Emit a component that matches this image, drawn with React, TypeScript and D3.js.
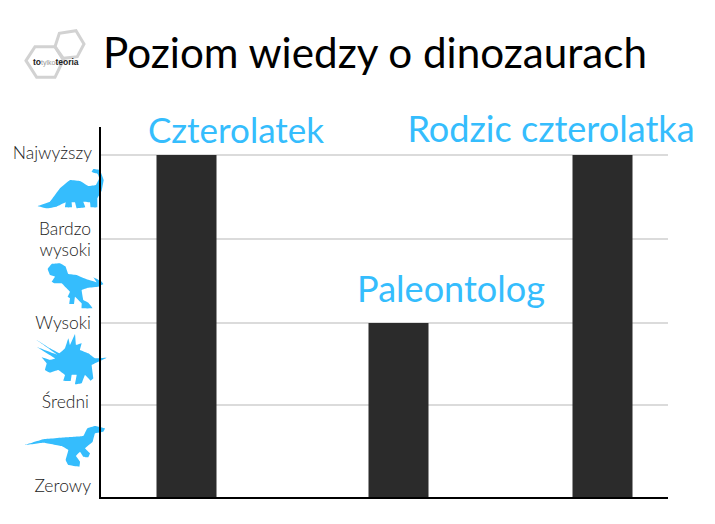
import React from 'react';
import * as d3 from 'd3';

const levels = [0, 1, 2, 3, 4];
const levelPixels = [498, 405, 323, 239, 155];
const gridLevels = [1, 2, 3, 4];
const categories = ['Czterolatek', 'Paleontolog', 'Rodzic czterolatka'];
const values = [4, 2, 4];
const categoryCentres = [186.5, 398.5, 602.5];
const labelCentres = [236, 451, 551];
const labelBaselines = [143, 302, 142];
const labelSizes = [35, 36.1, 36.1];

type Pt = [number, number];

// silhouettes traced at 3x from the picture
const bronto: Pt[] = [[113, 258], [150, 245], [180, 205], [210, 180], [240, 183], [265, 198], [288, 195], [298, 175], [293, 162], [275, 156], [280, 147], [300, 150], [311, 180], [305, 212], [292, 235], [292, 262], [272, 262], [270, 247], [250, 245], [256, 262], [230, 265], [225, 247], [215, 247], [216, 262], [195, 262], [197, 247], [170, 260], [140, 265]];
const rex: Pt[] = [[143, 447], [155, 432], [180, 430], [197, 440], [205, 462], [230, 465], [260, 478], [290, 487], [280, 472], [305, 485], [310, 492], [295, 500], [265, 503], [245, 510], [250, 540], [265, 548], [278, 565], [245, 565], [245, 550], [225, 530], [222, 552], [208, 552], [210, 535], [203, 530], [210, 515], [195, 500], [185, 490], [165, 490], [155, 485], [165, 470], [150, 465]];
const trike: Pt[] = [[110, 60], [150, 85], [178, 100], [195, 85], [205, 55], [210, 75], [225, 42], [228, 75], [245, 70], [240, 90], [265, 100], [285, 115], [320, 113], [295, 125], [275, 135], [280, 175], [272, 182], [255, 165], [245, 190], [225, 193], [230, 165], [215, 165], [212, 183], [190, 182], [195, 165], [175, 150], [150, 158], [135, 150], [140, 130], [125, 112], [150, 120], [165, 115], [112, 82], [160, 100], [172, 104]];
const raptor: Pt[] = [[75, 375], [130, 358], [200, 352], [250, 348], [262, 325], [285, 318], [315, 325], [310, 335], [285, 340], [278, 365], [255, 385], [270, 400], [265, 412], [250, 410], [240, 395], [228, 408], [240, 425], [238, 440], [205, 435], [197, 420], [205, 390], [185, 378], [130, 368]];

const hexLeft: Pt[] = [[78, 182], [105, 140], [165, 140], [190, 180], [165, 232], [110, 232]];
const hexRight: Pt[] = [[165, 140], [178, 100], [228, 92], [252, 132], [232, 170], [190, 175]];

const font = 'Lato, sans-serif';
const blue = '#35bdfd';
const shape = d3.line().curve(d3.curveCardinalClosed.tension(0.85));
const hex = d3.line().curve(d3.curveLinearClosed);

const App: React.FC = () => {
  const y = d3.scaleLinear().domain(levels).range(levelPixels);
  const x = d3.scaleOrdinal<string, number>().domain(categories).range(categoryCentres);
  const barWidth = 60;
  const axisX = 100;
  const right = 668;

  return (
    <svg width={715} height={524} style={{ position: 'absolute', left: 0, top: 0, background: '#fff' }} fontFamily={font}>
      <g transform="scale(0.3333)" fill="none" stroke="#d2d2d2" strokeWidth={9}>
        <path d={hex(hexLeft) ?? ''} />
        <path d={hex(hexRight) ?? ''} />
      </g>
      <text x={33} y={65} fontSize={8.5} fontFamily="'Liberation Sans Narrow', sans-serif" fill="#222" fontWeight={700}>
        to<tspan fill="#999" fontWeight={400} fontSize={7}>tylko</tspan>teoria
      </text>
      <text x={103} y={68} fontSize={42.2} fill="#000">Poziom wiedzy o dinozaurach</text>

      {gridLevels.map(l => (
        <line key={l} x1={axisX} x2={right} y1={y(l)} y2={y(l)} stroke="#cfcfcf" strokeWidth={1.5} />
      ))}

      {categories.map((c, i) => (
        <rect key={c} x={x(c) - barWidth / 2} y={y(values[i])} width={barWidth} height={y(0) - y(values[i])} fill="#2b2b2b" />
      ))}

      <g transform="translate(0,120) scale(0.3333)" fill={blue}>
        <path d={shape(bronto) ?? ''} />
        <path d={shape(rex) ?? ''} />
      </g>
      <g transform="translate(0,320) scale(0.3333)" fill={blue}>
        <path d={shape(trike) ?? ''} />
        <path d={shape(raptor) ?? ''} />
      </g>

      <path d={`M${axisX},127V498H${right}`} fill="none" stroke="#000" strokeWidth={2} />

      <g fontSize={17.5} fontWeight={300} fill="#222" textAnchor="end">
        <text x={92} y={159}>Najwyższy</text>
        <text x={91} y={235}>Bardzo</text>
        <text x={91} y={256}>wysoki</text>
        <text x={91} y={329}>Wysoki</text>
        <text x={89} y={408}>Średni</text>
        <text x={91} y={492}>Zerowy</text>
      </g>

      <g fill={blue} textAnchor="middle">
        {categories.map((c, i) => (
          <text key={c} x={labelCentres[i]} y={labelBaselines[i]} fontSize={labelSizes[i]}>{c}</text>
        ))}
      </g>
    </svg>
  );
};

export default App;
